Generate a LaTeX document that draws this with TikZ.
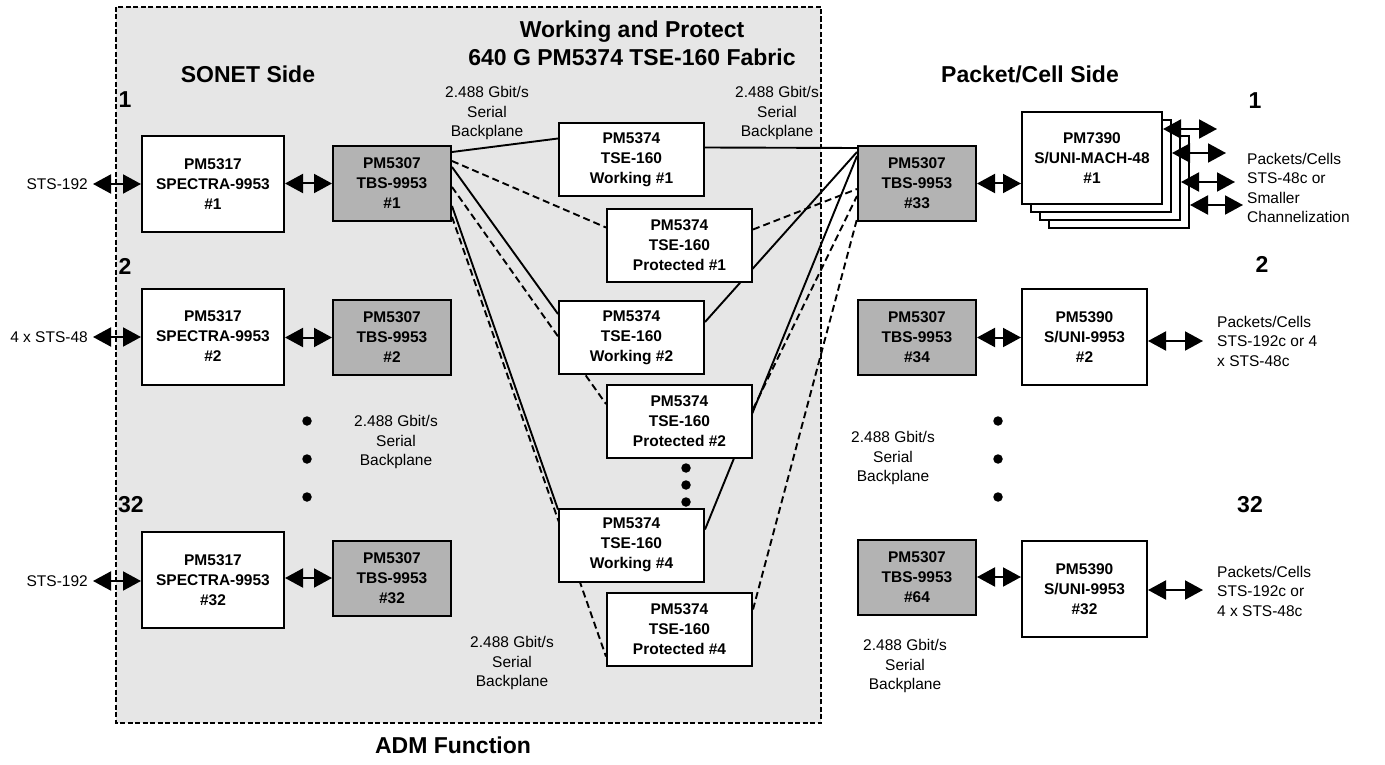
\documentclass[tikz,border=0pt]{standalone}
\usepackage{fontspec}
\setmainfont{Liberation Sans}
\usetikzlibrary{arrows.meta,calc}
\definecolor{framebg}{RGB}{230,230,230}
\definecolor{tbsgray}{RGB}{179,179,179}
\newcommand\bxfont{\fontsize{15.5}{20}\selectfont\bfseries}
\newcommand\rgfont{\fontsize{15.5}{19.5}\selectfont}
\newcommand\ttlfont{\fontsize{23}{28}\selectfont\bfseries}
\begin{document}
\begin{tikzpicture}[x=1pt,y=-1pt,
  wbox/.style={draw, fill=white, line width=2pt, align=center, font=\bxfont, inner sep=0pt},
  gbox/.style={wbox, fill=tbsgray},
  spec/.style={wbox, minimum width=142pt, minimum height=96pt},
  tbs/.style={gbox, minimum width=118pt, minimum height=75pt},
  tse/.style={wbox, minimum width=145pt, minimum height=73pt},
  mach/.style={wbox, minimum width=140pt, minimum height=92pt},
  suni/.style={wbox, minimum width=125pt, minimum height=96pt},
  link/.style={line width=1.9pt},
  plink/.style={line width=1.9pt, dash pattern=on 7pt off 4pt},
  dbl/.style={line width=2pt, {Triangle[length=18pt,width=19pt]}-{Triangle[length=18pt,width=19pt]}},
  lbl/.style={font=\rgfont, align=center, inner sep=0pt},
  ttl/.style={font=\ttlfont, align=center, inner sep=0pt},
  bigdot/.style={circle, fill=black, inner sep=0pt, minimum size=9.5pt},
]
\useasboundingbox (0,0) rectangle (1385,765);
% ADM frame background
\path[fill=framebg] (116,7) rectangle (821,723);

% titles
\node[ttl] (fabric) at (632,43) {Working and Protect\\640 G PM5374 TSE-160 Fabric};
\node[ttl] (sonet) at (248,74) {SONET Side};
\node[ttl] (pcs) at (1030,74) {Packet/Cell Side};
\node[ttl] (adm) at (453,745) {ADM Function};
\node[ttl] (nL1) at (125,100) {1};
\node[ttl] (nL2) at (125,266) {2};
\node[ttl] (nL32) at (131,505) {32};
\node[ttl] (nR1) at (1255,101) {1};
\node[ttl] (nR2) at (1262,264) {2};
\node[ttl] (nR32) at (1250,505) {32};

% box centres
\path
  (213,184) coordinate (cS1) (392,183.5) coordinate (cT1)
  (213,336.5) coordinate (cS2) (392,337.5) coordinate (cT2)
  (213,580) coordinate (cS32) (392,578) coordinate (cT32);

% invisible placeholders so links can be drawn behind the boxes
\node[tse, draw=none, fill=none] (W1) at (631.5,160) {};
\node[tse, draw=none, fill=none] (P1) at (679.5,245) {};
\node[tse, draw=none, fill=none] (W2) at (631.5,337.5) {};
\node[tse, draw=none, fill=none] (P2) at (679.5,421.5) {};
\node[tse, draw=none, fill=none] (W4) at (631.5,545) {};
\node[tse, draw=none, fill=none] (P4) at (679.5,629) {};
\node[tbs, draw=none, fill=none] (T1) at (cT1) {};
\node[tbs, draw=none, fill=none] (T33) at (917,183.5) {};

% links TBS #1 -> fabric
\draw[link]  ([yshift=-7pt]T1.north east)  -- ([yshift=-16pt]W1.north west);
\draw[plink] ([yshift=-16pt]T1.north east) -- ([yshift=-20pt]P1.north west);
\draw[link]  ([yshift=-22pt]T1.north east) -- ([yshift=-14pt]W2.north west);
\draw[plink] ([yshift=-42pt]T1.north east) -- ([yshift=-20pt]P2.north west);
\draw[link]  ([yshift=-61pt]T1.north east) -- ([yshift=-2pt]W4.north west);
\draw[plink] ([yshift=-72pt]T1.north east) -- ([yshift=-65pt]P4.north west);
% links fabric -> TBS #33
\draw[link]  ([yshift=-25pt]W1.north east) -- ([yshift=-3pt]T33.north west);
\draw[plink] ([yshift=-22pt]P1.north east) -- ([yshift=-44pt]T33.north west);
\draw[link]  ([yshift=-22pt]W2.north east) -- ([yshift=-7pt]T33.north west);
\draw[plink] ([yshift=-25pt]P2.north east) -- ([yshift=-51pt]T33.north west);
\draw[link]  ([yshift=-22pt]W4.north east) -- ([yshift=-11pt]T33.north west);
\draw[plink] ([yshift=-18pt]P4.north east) -- ([yshift=-74pt]T33.north west);

% frame border
\draw[line width=1.4pt, dash pattern=on 5pt off 2.5pt] (116,7) rectangle (821,723);

% left column
\node[spec] (S1) at (cS1) {PM5317\\SPECTRA-9953\\\#1};
\node[tbs] (T1b) at (cT1) {PM5307\\TBS-9953\\\#1};
\node[spec] (S2) at (cS2) {PM5317\\SPECTRA-9953\\\#2};
\node[tbs] (T2) at (cT2) {PM5307\\TBS-9953\\\#2};
\node[spec] (S32) at (cS32) {PM5317\\SPECTRA-9953\\\#32};
\node[tbs] (T32) at (cT32) {PM5307\\TBS-9953\\\#32};

% fabric boxes
\node[tse] (W1b) at (W1) {PM5374\\TSE-160\\Working \#1};
\node[tse] (P1b) at (P1) {PM5374\\TSE-160\\Protected \#1};
\node[tse] (W2b) at (W2) {PM5374\\TSE-160\\Working \#2};
\node[tse] (P2b) at (P2) {PM5374\\TSE-160\\Protected \#2};
\node[tse] (W4b) at (W4) {PM5374\\TSE-160\\Working \#4};
\node[tse] (P4b) at (P4) {PM5374\\TSE-160\\Protected \#4};

% right column
\node[tbs] (T33b) at (T33) {PM5307\\TBS-9953\\\#33};
\node[tbs] (T34) at (917,337.5) {PM5307\\TBS-9953\\\#34};
\node[tbs] (T64) at (917,577) {PM5307\\TBS-9953\\\#64};
\node[mach] (M4) at (1119,182) {};
\node[mach] (M3) at (1110,174) {};
\node[mach] (M2) at (1101,166) {};
\node[mach] (M1) at (1092,158) {PM7390\\S/UNI-MACH-48\\\#1};
\node[suni] (U2) at (1084.5,337) {PM5390\\S/UNI-9953\\\#2};
\node[suni] (U32) at (1084.5,589) {PM5390\\S/UNI-9953\\\#32};

% dots
\node[bigdot] (dl1) at (307,421) {};
\node[bigdot] (dl2) at (307,459) {};
\node[bigdot] (dl3) at (307,497) {};
\node[bigdot] (dm1) at (686,468) {};
\node[bigdot] (dm2) at (686,485) {};
\node[bigdot] (dm3) at (686,502) {};
\node[bigdot] (dr1) at (998,421) {};
\node[bigdot] (dr2) at (998,459) {};
\node[bigdot] (dr3) at (998,497) {};

% backplane labels
\node[lbl] (bp1) at (487,113) {2.488 Gbit/s\\Serial\\Backplane};
\node[lbl] (bp2) at (777,113) {2.488 Gbit/s\\Serial\\Backplane};
\node[lbl] (bp3) at (396,442) {2.488 Gbit/s\\Serial\\Backplane};
\node[lbl] (bp4) at (893,458) {2.488 Gbit/s\\Serial\\Backplane};
\node[lbl] (bp5) at (512,663) {2.488 Gbit/s\\Serial\\Backplane};
\node[lbl] (bp6) at (905,666) {2.488 Gbit/s\\Serial\\Backplane};

% left inputs
\node[lbl, anchor=east] (inAl) at (88,184) {STS-192};
\node[lbl, anchor=east] (inBl) at (88,337) {4 x STS-48};
\node[lbl, anchor=east] (inCl) at (88,581) {STS-192};
\coordinate (inA) at (93,184);
\coordinate (inB) at (93,337);
\coordinate (inC) at (93,581);
\draw[dbl] (inA) -- (inA -| S1.west);
\draw[dbl] (inB) -- (inB -| S2.west);
\draw[dbl] (inC) -- (inC -| S32.west);
\draw[dbl] (S1.east |- T1b.east) -- (T1b.west);
\draw[dbl] (S2.east |- T2.east) -- (T2.west);
\draw[dbl] (S32.east |- T32.east) -- (T32.west);

% right side arrows
\draw[dbl] (T33b.east) -- (T33b.east -| M1.west);
\draw[dbl] (T34.east) -- (T34.east -| U2.west);
\draw[dbl] (T64.east) -- (T64.east -| U32.west);
\coordinate (oM1) at (1217,129);
\coordinate (oM2) at (1226,153);
\coordinate (oM3) at (1235,182);
\coordinate (oM4) at (1243,205);
\draw[dbl] (oM1 -| M1.east) -- (oM1);
\draw[dbl] (oM2 -| M2.east) -- (oM2);
\draw[dbl] (oM3 -| M3.east) -- (oM3);
\draw[dbl] (oM4 -| M4.east) -- (oM4);
\coordinate (oU2) at (1203,341);
\coordinate (oU32) at (1203,590);
\draw[dbl] (oU2 -| U2.east) -- (oU2);
\draw[dbl] (oU32 -| U32.east) -- (oU32);

% right labels
\node[lbl, align=left, anchor=west] (pcM) at (1247,188) {Packets/Cells\\STS-48c or\\Smaller\\Channelization};
\node[lbl, align=left, anchor=west] (pcU2) at (1217,341) {Packets/Cells\\STS-192c or 4\\x STS-48c};
\node[lbl, align=left, anchor=west] (pcU32) at (1217,591) {Packets/Cells\\STS-192c or\\4 x STS-48c};
\end{tikzpicture}
\end{document}
